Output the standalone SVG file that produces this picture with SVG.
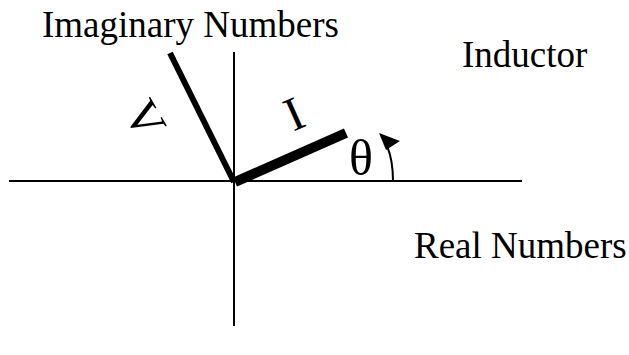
<svg xmlns="http://www.w3.org/2000/svg" width="629" height="355" viewBox="0 0 629 355">
<style>
text{font-family:"Liberation Serif","Times New Roman",serif;font-size:37px;fill:#000}
.big{font-size:48px}
.ax{stroke:#000;stroke-width:2;fill:none}
</style>
<rect width="629" height="355" fill="#fff"/>
<g id="axes">
<line class="ax" x1="9" y1="181" x2="522" y2="181"/>
<line class="ax" x1="234" y1="52" x2="234" y2="326"/>
</g>
<g id="connectors">
<line x1="170" y1="53" x2="234" y2="182" stroke="#000" stroke-width="6"/>
<line x1="235" y1="182" x2="346" y2="133" stroke="#000" stroke-width="10"/>
<path d="M393,181 Q393,160 387,146" stroke="#000" stroke-width="2" fill="none"/>
<polygon points="379,133 400,141 386,150" fill="#000"/>
</g>
<g id="labels">
<text x="42" y="37">Imaginary Numbers</text>
<text x="462" y="67">Inductor</text>
<text x="414" y="258">Real Numbers</text>
<text x="349" y="175" style="font-size:50px">θ</text>
<text class="big" x="145" y="135" text-anchor="middle" transform="rotate(60,145,119)">V</text>
<text class="big" x="294" y="130" text-anchor="middle" transform="rotate(-24,294,114)">I</text>
</g>
</svg>
